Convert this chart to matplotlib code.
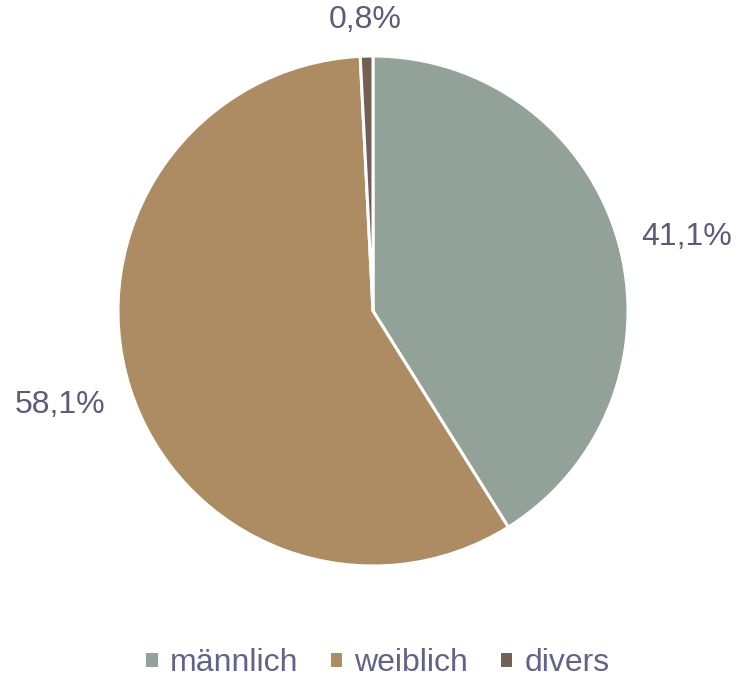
import matplotlib.pyplot as plt
import numpy as np

kategorien = ["männlich", "weiblich", "divers"]
anteile = [41.1, 58.1, 0.8]
farben = ["#93a298", "#ad8c63", "#735f55"]
textfarbe = "#5c5c7a"

# Lage der Beschriftungen (Kreisradius = 1)
label_pos = [(1.231, 0.292), (-1.227, -0.367), (-0.031, 1.141)]

plt.rcParams['font.family'] = ['Liberation Sans', 'DejaVu Sans']

fig = plt.figure(figsize=(7.36, 6.81), dpi=100)
ax = fig.add_axes([0, 0, 1, 1])

# 1 Einheit = 255 px, Mittelpunkt bei (373, 311)
r = 255.0

wedges, texts, autotexts = ax.pie(
    anteile, colors=farben, startangle=90, counterclock=False,
    autopct=lambda p: f"{p:.1f}%".replace(".", ","), pctdistance=1.28,
    wedgeprops=dict(edgecolor="white", linewidth=2.2),
    textprops=dict(color=textfarbe, fontsize=23), frame=True)
ax.axis('off')
ax.set_xlim(-373 / r, (736 - 373) / r)
ax.set_ylim(-(681 - 311) / r, 311 / r)

for t, pos in zip(autotexts, label_pos):
    t.set_position(pos)
    t.set_color(textfarbe)

leg = fig.legend(wedges, kategorien, loc='center', bbox_to_anchor=(0.512, 1 - 663 / 681),
                 ncol=3, frameon=False, fontsize=23, handlelength=0.45, handleheight=0.45,
                 handletextpad=0.35, columnspacing=0.95)
for t in leg.get_texts():
    t.set_color("#63638a")

fig.savefig("out.png", dpi=100)
